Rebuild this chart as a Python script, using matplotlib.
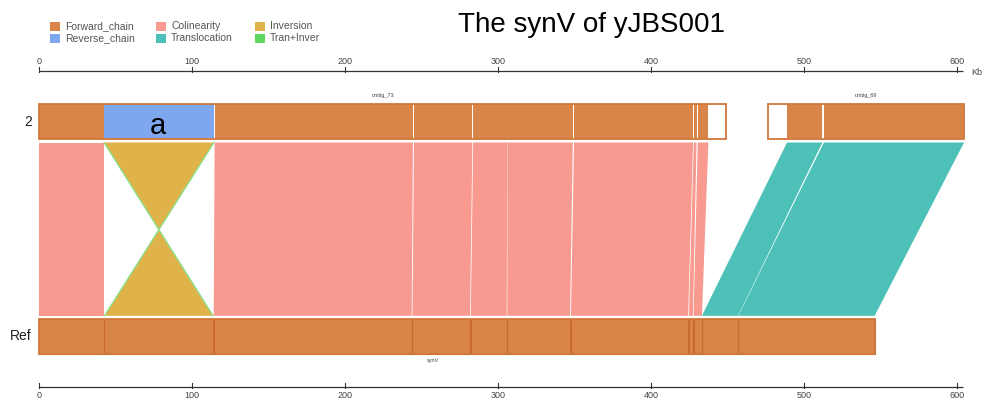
import matplotlib
matplotlib.use("Agg")
import matplotlib.pyplot as plt
from matplotlib.patches import Rectangle, Polygon

plt.rcParams['font.family'] = ['Liberation Sans', 'DejaVu Sans']

# ---- data (kb) ----
query_name = "2"
ref_name = "Ref"
query_contigs = ["unitig_73", "unitig_69"]
query_starts = [0.0, 476.0]
query_ends = [448.6, 604.4]
ref_contig = "synV"
ref_length = 546.0

aln_q_start = [0.0, 42.3, 114.6, 244.9, 283.6, 306.0, 349.5, 427.8, 430.4, 488.7, 512.8]
aln_q_end = [42.0, 114.2, 244.2, 283.1, 305.9, 348.7, 427.3, 429.6, 437.3, 511.8, 604.4]
aln_r_start = [0.0, 42.6, 114.0, 243.9, 282.0, 305.9, 347.5, 424.6, 427.6, 433.1, 456.9]
aln_r_end = [42.0, 113.6, 243.4, 281.5, 305.5, 346.9, 424.1, 427.2, 433.1, 456.7, 546.0]
aln_kind = ["Colinearity", "Inversion", "Colinearity", "Colinearity", "Colinearity",
            "Colinearity", "Colinearity", "Colinearity", "Colinearity",
            "Translocation", "Translocation"]

scale_ticks = [0, 100, 200, 300, 400, 500, 600]
scale_end = 603.8

legend_labels = ["Forward_chain", "Reverse_chain", "Colinearity",
                 "Translocation", "Inversion", "Tran+Inver"]

# ---- style ----
colors = {
    "Forward_chain": "#D9854A",
    "Reverse_chain": "#7FA7EE",
    "Colinearity": "#F89A90",
    "Translocation": "#4DC1B8",
    "Inversion": "#E0B24A",
    "Tran+Inver": "#5ED65E",
}
edge_orange = "#D2773A"
line_dark = "#C9692C"

W, H = 984, 405
fig = plt.figure(figsize=(W / 100, H / 100), dpi=100)
ax = fig.add_axes([0, 0, 1, 1])
px_per_kb = 1.53
x0_px = 39.3
ax.set_xlim(-x0_px / px_per_kb, (W - x0_px) / px_per_kb)
ax.set_ylim(H, 0)
ax.axis("off")

kb_per_px = 1 / px_per_kb

# vertical layout (pixel rows)
q_top, q_bot = 103.5, 138.5
r_top, r_bot = 319.0, 354.0
rib_top, rib_bot = 142.5, 315.8

# ---- ribbons ----
for qs, qe, rs, re_, k in zip(aln_q_start, aln_q_end, aln_r_start, aln_r_end, aln_kind):
    if k == "Inversion":
        pts = [(qs, rib_top), (qe, rib_top), (rs, rib_bot), (re_, rib_bot)]
        ax.add_patch(Polygon(pts, closed=True, facecolor=colors["Inversion"],
                             edgecolor="none", lw=0, zorder=2))
        # light green rims on the crossing edges
        ax.plot([qs, re_], [rib_top, rib_bot], color="#8EE08A", lw=1.0, zorder=2.5)
        ax.plot([qe, rs], [rib_top, rib_bot], color="#8EE08A", lw=1.0, zorder=2.5)
    else:
        pts = [(qs, rib_top), (qe, rib_top), (re_, rib_bot), (rs, rib_bot)]
        ax.add_patch(Polygon(pts, closed=True, facecolor=colors[k],
                             edgecolor="none", lw=0, zorder=2))

# ---- query track ----
for s, e in zip(query_starts, query_ends):
    ax.add_patch(Rectangle((s, q_top), e - s, q_bot - q_top, facecolor="white",
                           edgecolor="none", zorder=3))
for qs, qe, k in zip(aln_q_start, aln_q_end, aln_kind):
    fc = colors["Reverse_chain"] if k == "Inversion" else colors["Forward_chain"]
    ax.add_patch(Rectangle((qs, q_top), qe - qs, q_bot - q_top, facecolor=fc,
                           edgecolor="none", zorder=4))
for s, e, name in zip(query_starts, query_ends, query_contigs):
    ax.add_patch(Rectangle((s, q_top), e - s, q_bot - q_top, facecolor="none",
                           edgecolor=edge_orange, lw=1.3, zorder=5))
    ax.text((s + e) / 2, q_top - 5, name, fontsize=4, color="#444444",
            ha="center", va="bottom", zorder=6)

# ---- reference track ----
ax.add_patch(Rectangle((0, r_top), ref_length, r_bot - r_top,
                       facecolor=colors["Forward_chain"], edgecolor="none", zorder=3))
for rs, re_ in zip(aln_r_start, aln_r_end):
    ax.add_patch(Rectangle((rs, r_top), re_ - rs, r_bot - r_top, facecolor="none",
                           edgecolor=line_dark, lw=0.8, zorder=4))
ax.add_patch(Rectangle((0, r_top), ref_length, r_bot - r_top, facecolor="none",
                       edgecolor=edge_orange, lw=1.3, zorder=5))
ax.text(ref_length * 0.5 - 16, r_bot + 4, ref_contig, fontsize=4, color="#444444",
        ha="center", va="top", zorder=6)

# ---- track labels ----
ax.text(-4.7, (q_top + q_bot) / 2 + 1.5, query_name,
        fontsize=10, ha="right", va="center", color="#222222")
ax.text(-4.7, (r_top + r_bot) / 2, ref_name, fontsize=10, ha="right",
        va="center", color="#222222")
inv_idx = aln_kind.index("Inversion")
ax.text((aln_q_start[inv_idx] + aln_q_end[inv_idx]) / 2 - 0.5, (q_top + q_bot) / 2 + 5,
        "a", fontsize=21, ha="center", va="center", color="black", zorder=7)

# ---- scale bars ----
def draw_scale(y, label_y, with_unit):
    ax.plot([0, scale_end], [y, y], color="#333333", lw=0.9, solid_capstyle="butt")
    for t in scale_ticks:
        ax.plot([t, t], [y - 3.5, y + 1.5], color="#333333", lw=0.8)
        ax.text(t, label_y, str(t), fontsize=6.5, color="#444444",
                ha="center", va="center")
    if with_unit:
        ax.text(scale_end + 5, y + 2, "Kb", fontsize=6.5, color="#444444",
                ha="left", va="center")

draw_scale(70.8, 61.5, True)
draw_scale(386.8, 395.5, False)

# ---- title ----
ax.text((592 - x0_px) * kb_per_px, 24.5, "The synV of yJBS001",
        fontsize=20, ha="center", va="center", color="black")

# ---- legend ----
leg_cols_px = [50, 156, 255]
leg_rows_px = [26.0, 38.0]
for i, lab in enumerate(legend_labels):
    cx = (leg_cols_px[i // 2] - x0_px) * kb_per_px
    cy = leg_rows_px[i % 2]
    ax.add_patch(Rectangle((cx, cy - 4.5), 10 * kb_per_px, 9,
                           facecolor=colors[lab], edgecolor="none"))
    ax.text(cx + 15 * kb_per_px, cy, lab, fontsize=7.5, color="#555555",
            ha="left", va="center")

fig.savefig("out.png", dpi=100)
